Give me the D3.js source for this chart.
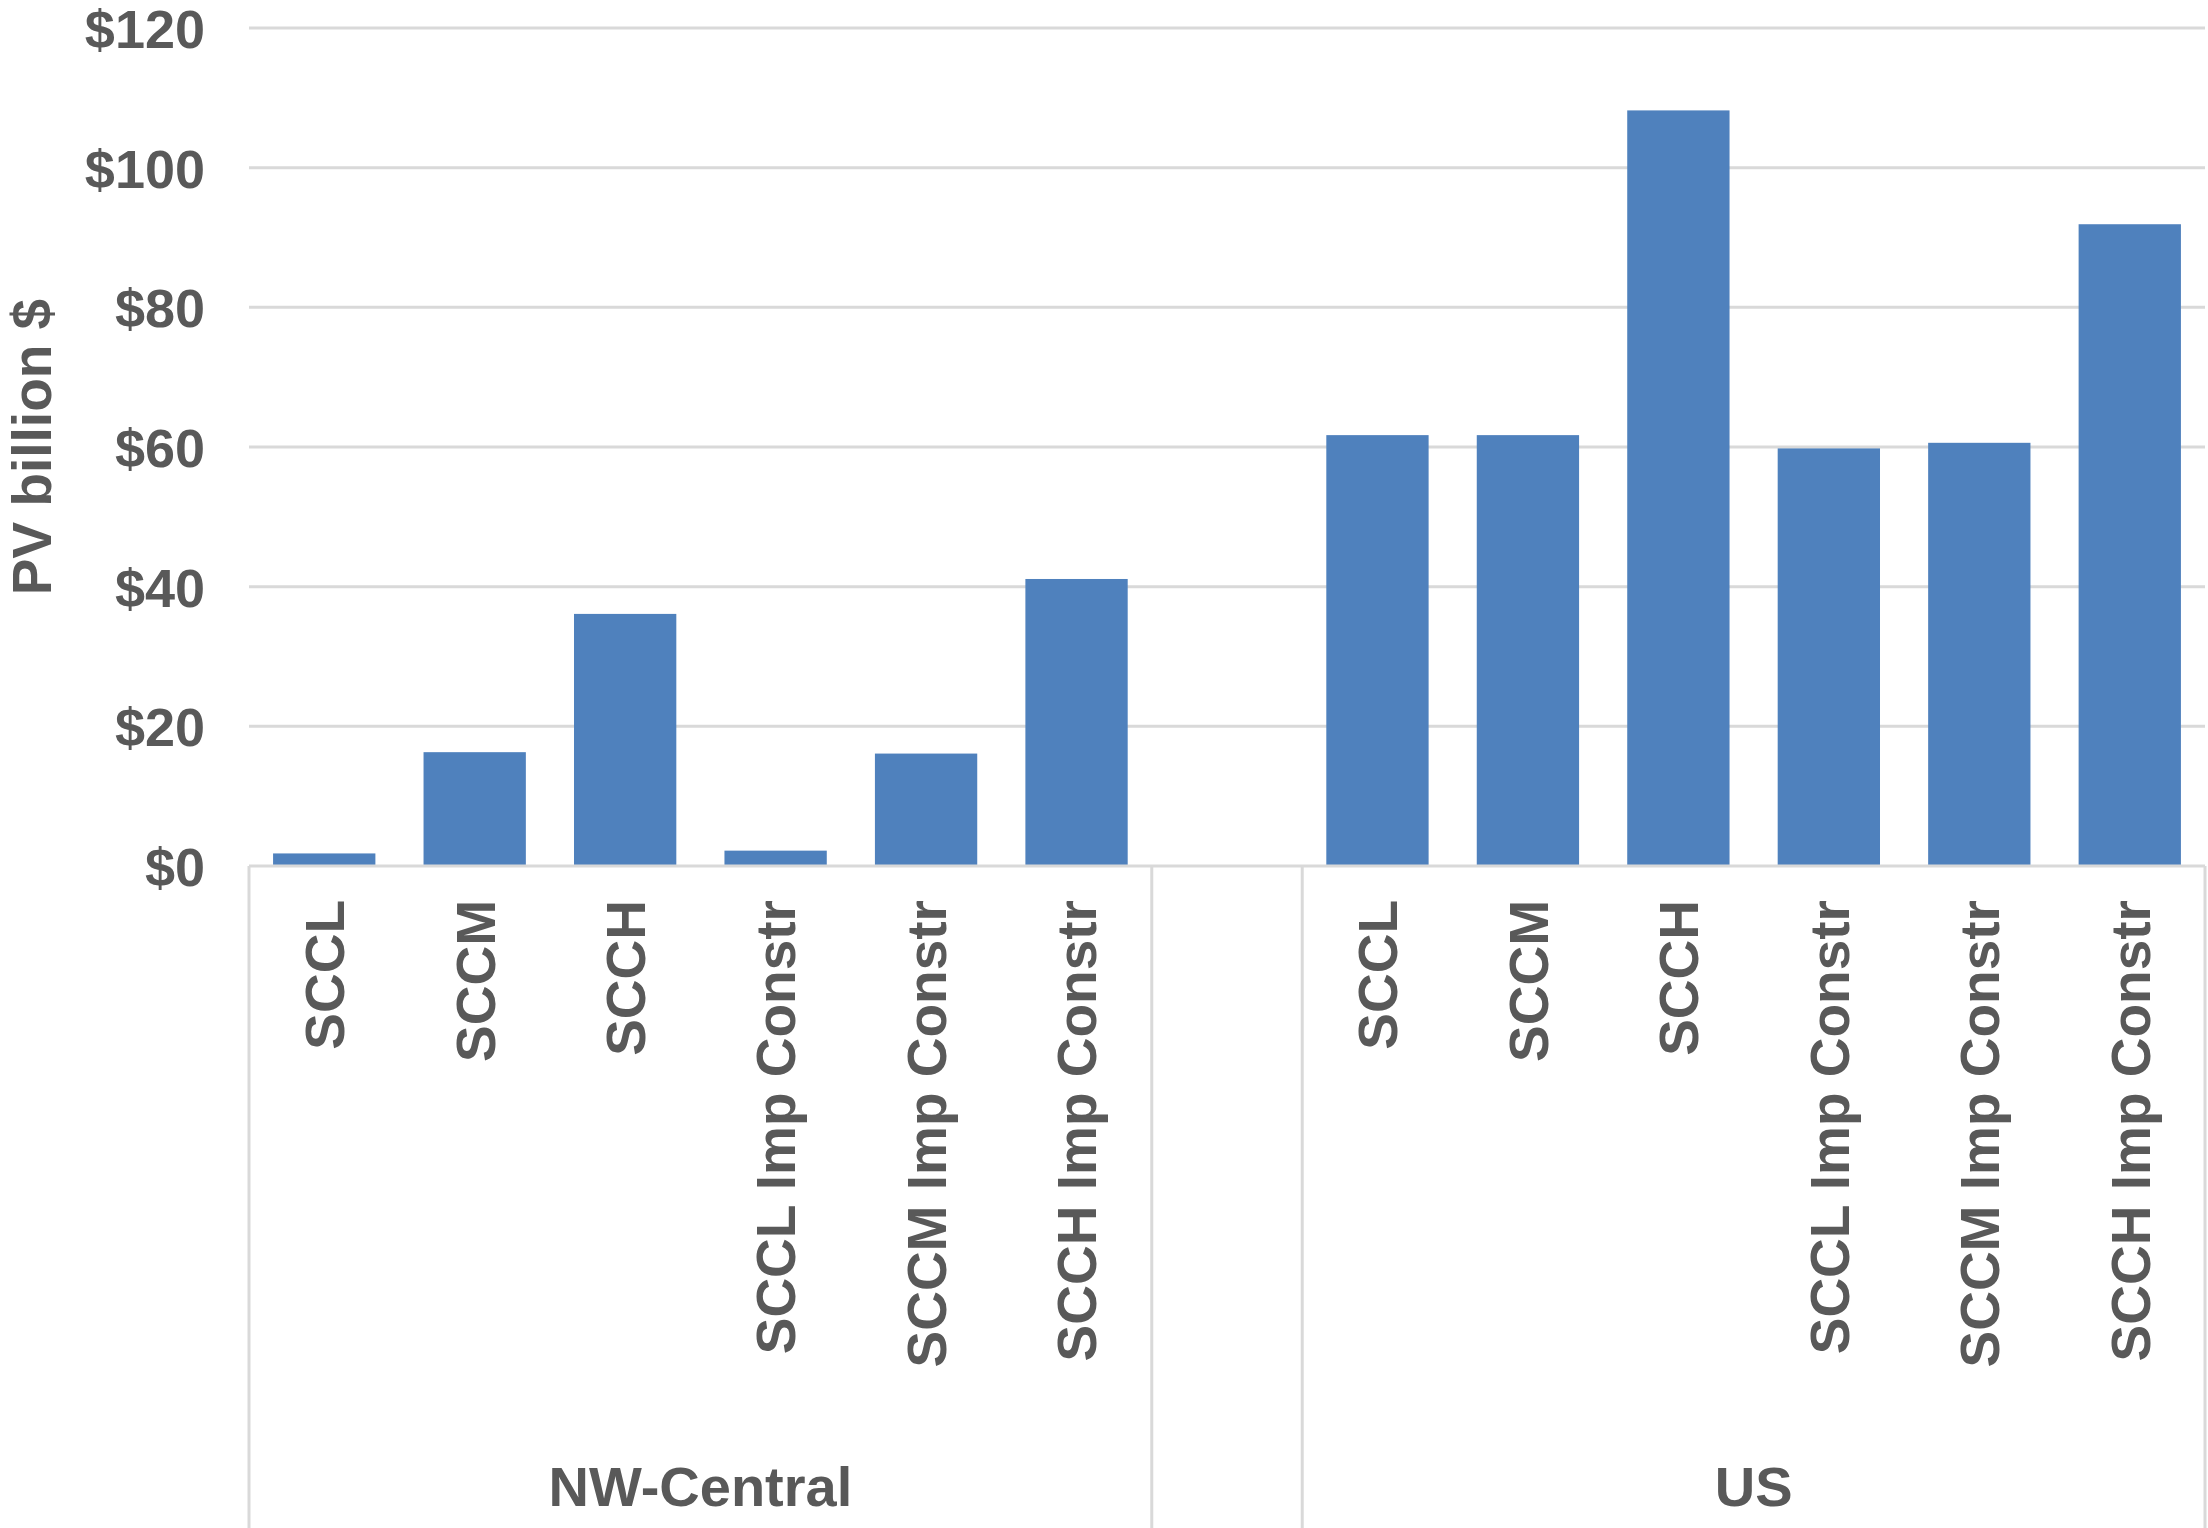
<!DOCTYPE html>
<html>
<head>
<meta charset="utf-8">
<script src="https://cdn.jsdelivr.net/npm/d3@7"></script>
<style>
  html, body { margin: 0; padding: 0; background: #fff; }
  svg { display: block; }
  text { font-family: "Liberation Sans", Arial, sans-serif; font-weight: bold; fill: #595959; }
</style>
</head>
<body>
<svg id="chart" width="2208" height="1528"></svg>
<script>
// ---- data ----
const groups = ["NW-Central", "US"];
const categories = ["SCCL", "SCCM", "SCCH", "SCCL Imp Constr", "SCCM Imp Constr", "SCCH Imp Constr"];
const nwCentralValues = [1.8, 16.3, 36.1, 2.2, 16.1, 41.1];
const usValues = [61.7, 61.7, 108.2, 59.8, 60.6, 91.9];
const yTicks = [0, 20, 40, 60, 80, 100, 120];
const yTickLabels = ["$0", "$20", "$40", "$60", "$80", "$100", "$120"];
const yTitle = "PV billion $";

(function () {
  // build slot table: group1 cats, one empty slot, group2 cats
  const seriesByGroup = [nwCentralValues, usValues];
  const slots = [];
  groups.forEach((g, gi) => {
    categories.forEach((c, ci) => slots.push({ key: g + "|" + c, group: g, cat: c, value: seriesByGroup[gi][ci] }));
    if (gi < groups.length - 1) slots.push({ key: "gap" + gi, group: null, cat: "", value: null });
  });

  const svg = d3.select("#chart");
  const mLeft = 249, mRight = 2205, mTop = 28, mBottom = 866;
  const gridColor = "#D9D9D9";

  const x = d3.scaleBand().domain(slots.map(d => d.key)).range([mLeft, mRight])
    .paddingInner(0.32).paddingOuter(0.16);
  const y = d3.scaleLinear().domain([0, 120]).range([mBottom, mTop]);

  // gridlines
  svg.append("g").selectAll("line").data(yTicks.filter(t => t > 0)).join("line")
    .attr("x1", mLeft).attr("x2", mRight)
    .attr("y1", d => y(d)).attr("y2", d => y(d))
    .attr("stroke", gridColor).attr("stroke-width", 3);

  // y axis labels
  const yAxis = d3.axisLeft(y).tickValues(yTicks).tickSize(0).tickPadding(0)
    .tickFormat((d, i) => yTickLabels[i]);
  const yg = svg.append("g").attr("transform", "translate(205,0)").call(yAxis);
  yg.select(".domain").remove();
  yg.attr("font-size", null).attr("font-family", null);
  yg.selectAll("text").attr("font-size", 54).attr("dy", "0.36em")
    .style("font-family", '"Liberation Sans", Arial, sans-serif').style("font-weight", "bold").attr("fill", "#595959");

  // bars
  svg.append("g").selectAll("rect").data(slots.filter(d => d.value != null)).join("rect")
    .attr("x", d => x(d.key)).attr("width", x.bandwidth())
    .attr("y", d => y(d.value)).attr("height", d => y(0) - y(d.value))
    .attr("fill", "#4F81BD");

  // x axis line
  svg.append("line").attr("x1", mLeft).attr("x2", mRight).attr("y1", mBottom).attr("y2", mBottom)
    .attr("stroke", gridColor).attr("stroke-width", 3);

  // group boundaries
  const step = x.step();
  const bounds = [];
  groups.forEach(g => {
    const ks = slots.filter(s => s.group === g).map(s => s.key);
    const x0 = x(ks[0]) - x.paddingInner() * step / 2;
    const x1 = x(ks[ks.length - 1]) + x.bandwidth() + x.paddingInner() * step / 2;
    bounds.push({ g, x0, x1 });
  });
  const vlines = [];
  bounds.forEach(b => { vlines.push(b.x0, b.x1); });
  svg.append("g").selectAll("line").data(vlines).join("line")
    .attr("x1", d => d).attr("x2", d => d).attr("y1", mBottom).attr("y2", 1528)
    .attr("stroke", gridColor).attr("stroke-width", 3);

  // category labels
  svg.append("g").selectAll("text").data(slots.filter(d => d.group)).join("text")
    .attr("transform", d => `translate(${x(d.key) + x.bandwidth() / 2},900) rotate(-90)`)
    .attr("text-anchor", "end").attr("dy", "0.36em").attr("font-size", 55)
    .text(d => d.cat);

  // group labels
  svg.append("g").selectAll("text").data(bounds).join("text")
    .attr("x", d => (d.x0 + d.x1) / 2).attr("y", 1506)
    .attr("text-anchor", "middle").attr("font-size", 56)
    .text(d => d.g);

  // y title
  svg.append("text").attr("transform", `translate(51,${(mTop + mBottom) / 2}) rotate(-90)`)
    .attr("text-anchor", "middle").attr("font-size", 55).text(yTitle);
})();
</script>
</body>
</html>
